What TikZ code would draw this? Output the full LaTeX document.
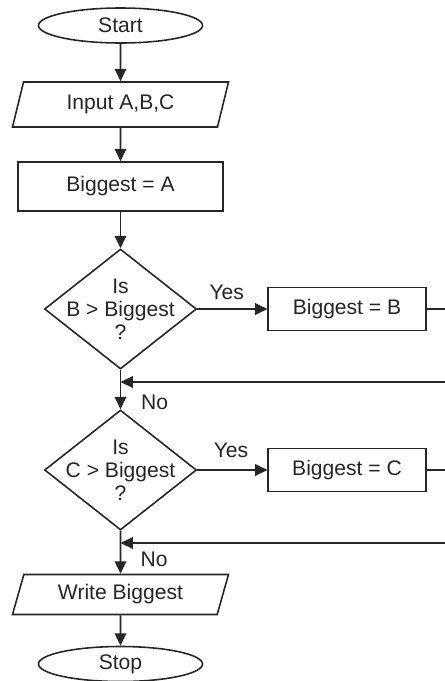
\documentclass[tikz,border=0pt]{standalone}
\usepackage{fontspec}
\setmainfont{Liberation Sans}
\usetikzlibrary{shapes.geometric,arrows.meta}

\tikzset{
  flow/.style={->,>={Triangle[length=7pt,width=6.5pt]},line width=0.9pt,black!85},
  term/.style={draw,ellipse,line width=0.9pt,black!85,minimum width=3.28cm,minimum height=0.7cm,inner sep=0pt},
  io/.style={draw,trapezium,trapezium left angle=60,trapezium right angle=120,trapezium stretches body,line width=0.9pt,black!85,minimum width=4.32cm,minimum height=0.9cm,inner sep=0pt},
  proc/.style={draw,rectangle,line width=0.9pt,black!85,minimum width=3.15cm,minimum height=0.86cm},
  decide/.style={draw,diamond,line width=0.9pt,black!85,minimum width=3.04cm,minimum height=2.4cm,inner sep=0pt},
}

\begin{document}
\begin{tikzpicture}[font=\fontsize{12}{13}\selectfont]
\useasboundingbox (0,0) rectangle (8.88,-13.62);

\node[term] (start) at (2.41,-0.51) {Start};
\node[io, below of=start, yshift=-0.58cm] (input) {Input A,B,C};
\node[proc, minimum width=4.1cm, minimum height=0.98cm, below of=input, yshift=-0.64cm] (biga) {Biggest = A};

\node[decide, below of=biga, yshift=-1.45cm] (isb) {};
\node[align=center, black!85] (isbtxt) at (isb) {Is\\B > Biggest\\?};
\node[proc, right of=isb, xshift=3.53cm] (bigb) {Biggest = B};
\coordinate[below of=isb, yshift=-0.46cm] (jb);

\node[decide, below of=isb, yshift=-2.22cm] (isc) {};
\node[align=center, black!85] (isctxt) at (isc) {Is\\C > Biggest\\?};
\node[proc, right of=isc, xshift=3.53cm] (bigc) {Biggest = C};
\coordinate[below of=isc, yshift=-0.46cm] (jc);

\node[io, minimum height=0.8cm, below of=isc, yshift=-1.49cm] (write) {Write Biggest};
\node[term, below of=write, yshift=-0.39cm] (stop) {Stop};

\draw[flow] (start) -- (input);
\draw[flow] (input) -- (biga);
\draw[flow] (biga) -- (isb);
\draw[flow] (isb) -- node[pos=0.42, above, yshift=0.06cm] {Yes} (bigb);
\draw[flow] (bigb.east) -- ++(0.6,0) |- (jb);
\draw[flow] (isb) -- node[pos=0.83, right, xshift=0.28cm] {No} (isc);
\draw[flow] (isc) -- node[pos=0.48, above, yshift=0.12cm] {Yes} (bigc);
\draw[flow] (bigc.east) -- ++(0.6,0) |- (jc);
\draw[flow] (isc) -- node[pos=0.67, right, xshift=0.27cm] {No} (write);
\draw[flow] (write) -- (stop);
\end{tikzpicture}
\end{document}
